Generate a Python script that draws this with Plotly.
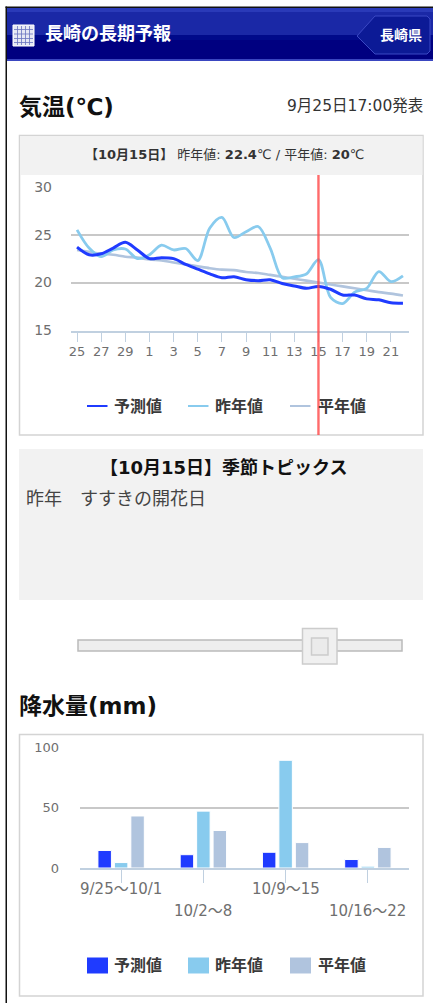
import plotly.graph_objects as go

W, H = 433, 1003
FONT = "DejaVu Sans, Noto Sans CJK JP"

# ---- data ----
days = ["25","26","27","28","29","30","1","2","3","4","5","6","7","8","9","10",
        "11","12","13","14","15","16","17","18","19","20","21","22"]
forecast = [23.7,22.9,23.0,23.6,24.2,23.4,22.5,22.6,22.5,21.9,21.4,20.9,20.5,20.6,
            20.3,20.2,20.3,19.9,19.65,19.4,19.6,19.3,18.7,18.7,18.3,18.2,17.9,17.85]
last_year = [25.5,23.6,22.7,23.4,23.5,22.5,22.9,23.9,23.4,23.55,22.3,25.7,26.8,24.7,
             25.3,25.85,23.6,20.5,20.6,20.9,22.4,18.45,17.8,19.0,19.4,21.15,20.1,20.7]
normal = [23.4,23.2,23.0,22.9,22.7,22.6,22.4,22.3,22.1,21.9,21.7,21.5,21.35,21.3,
          21.1,21.0,20.8,20.6,20.4,20.2,20.0,19.8,19.6,19.4,19.2,19.0,18.85,18.65]
selected_day = "15"

weeks = ["9/25～10/1","10/2～8","10/9～15","10/16～22"]
rain_forecast = [14.5,11,13,7]
rain_last_year = [4.5,47,89,1.5]
rain_normal = [43,31,21,17]

series_names = ["予測値","昨年値","平年値"]
C_F, C_L, C_N = "#1f3bff", "#88cbee", "#b0c4de"
GRID, AXIS, TICKTXT = "#c8c8c8", "#c0d0e0", "#6f6f6f"

def fx(p): return p / W
def fy(p): return 1 - p / H

shapes, annos = [], []

def rect(x0, y0, x1, y1, fill=None, line=None, lw=1, layer="below"):
    shapes.append(dict(type="rect", xref="paper", yref="paper", x0=fx(x0), x1=fx(x1),
                       y0=fy(y1), y1=fy(y0), fillcolor=fill or "rgba(0,0,0,0)",
                       line=dict(color=line or "rgba(0,0,0,0)", width=lw if line else 0),
                       layer=layer))

def text(x, y, s, size, color="#222222", anchor="left", bold=False):
    annos.append(dict(xref="paper", yref="paper", x=fx(x), y=fy(y), text=f"<b>{s}</b>" if bold else s,
                      showarrow=False, xanchor=anchor, yanchor="middle",
                      font=dict(family=FONT, size=size, color=color),
                      borderpad=0, borderwidth=0))

# page frame
rect(5.5, 6.5, 433, 8, fill="#111111")
rect(5.5, 6.5, 7, 1003, fill="#111111")

# header band
rect(7, 8, 433, 12, fill="#2a3ab8")
rect(7, 12, 433, 35, fill="#1a28a6")
rect(7, 35, 433, 40, fill="#000a8a")
rect(7, 40, 433, 59, fill="#000080")
rect(7, 59, 433, 61, fill="#3a46c0")
# calendar icon
rect(13, 25, 34, 46, fill="#e6e8f4", line="#ffffff", lw=1)
for gx in (17.5, 21.5, 25.5, 29.5):
    rect(gx - 0.4, 26, gx + 0.4, 45, fill="#6a74c0")
for gy in (29.5, 34, 38.5, 42.5):
    rect(14, gy - 0.4, 33, gy + 0.4, fill="#6a74c0")
# region button
shapes.append(dict(type="path", xref="paper", yref="paper",
    path=(f"M {fx(357)} {fy(36)} L {fx(375)} {fy(16)} L {fx(427)} {fy(16)} L {fx(430)} {fy(19)} "
          f"L {fx(430)} {fy(51)} L {fx(427)} {fy(54)} L {fx(375)} {fy(54)} Z"),
    fillcolor="#0c1a96", line=dict(color="#3b48c4", width=1), layer="below"))
text(45, 33, "長崎の長期予報", 18, "#ffffff", bold=True)
text(401, 35.5, "長崎県", 14, "#ffffff", anchor="center", bold=True)

# temperature section
text(19, 107, "気温(℃)", 23, "#111111", bold=True)
text(423, 106, "9月25日17:00発表", 15.5, "#333333", anchor="right")
rect(19.5, 135.5, 423, 435, fill="#ffffff", line="#d4d4d4", lw=1.5)
rect(20, 136, 422.5, 175, fill="#f2f2f2")
text(224, 154, "<b>【10月15日】</b> 昨年値: <b>22.4</b>℃ / 平年値: <b>20</b>℃", 13, "#333333", anchor="center")

# topics box
rect(19, 449, 423, 600, fill="#f2f2f2")
text(224.5, 468, "【10月15日】季節トピックス", 18, "#111111", anchor="center", bold=True)
text(26, 499, "昨年　すすきの開花日", 18, "#444444")

# slider
rect(78, 640, 402, 651, fill="#eeeeee", line="#bbbbbb", lw=1.5)
rect(302.5, 628.5, 337, 664, fill="#f0f0f0", line="#cccccc", lw=1.5)
rect(311.5, 638, 328, 655, fill="#ebebeb", line="#cccccc", lw=1.5)

# rain section
text(19, 706, "降水量(mm)", 23, "#111111", bold=True)
rect(19.5, 734.5, 423, 996, fill="#ffffff", line="#d4d4d4", lw=1.5)

# hand-placed legends
def legend(y, marker):
    for (x0, tx, name, col) in zip((87, 188, 290), (114, 215, 318), series_names, (C_F, C_L, C_N)):
        if marker == "line":
            rect(x0, y - 1, x0 + 20.5, y + 1, fill=col)
        else:
            rect(x0, y - 8, x0 + 21, y + 8, fill=col)
        text(tx, y, name, 16, "#3a3a3a", bold=True)
legend(406, "line")
legend(965.5, "box")

fig = go.Figure()
for name, vals, col, lw in [(series_names[2], normal, C_N, 2.6), (series_names[1], last_year, C_L, 2.8),
                            (series_names[0], forecast, C_F, 3)]:
    fig.add_trace(go.Scatter(x=days, y=vals, name=name, mode="lines", xaxis="x", yaxis="y",
                             line=dict(color=col, width=lw, shape="spline", smoothing=0.9)))
for name, vals, col in zip(series_names, (rain_forecast, rain_last_year, rain_normal), (C_F, C_L, C_N)):
    fig.add_trace(go.Bar(x=weeks, y=vals, name=name, xaxis="x2", yaxis="y2", marker_color=col,
                         marker_line=dict(color="#ffffff", width=1)))

# selected-day marker (category axis: position is the index of the day)
sel = days.index(selected_day)
shapes.append(dict(type="line", xref="x", yref="paper", x0=sel, x1=sel,
                   y0=fy(435), y1=fy(175), line=dict(color="rgba(255,70,70,0.8)", width=2.4), layer="above"))

# staggered week labels
for i, w in enumerate(weeks):
    annos.append(dict(xref="x2", yref="paper", x=w, y=fy(889 if i % 2 == 0 else 911), text=w, showarrow=False,
                      yanchor="middle", font=dict(family=FONT, size=15, color=TICKTXT)))

fig.update_layout(
    width=W, height=H, margin=dict(l=0, r=0, t=0, b=0), autosize=False,
    paper_bgcolor="#ffffff", plot_bgcolor="rgba(0,0,0,0)", showlegend=False,
    font=dict(family=FONT), bargap=0.4, bargroupgap=0.18, barmode="group",
    shapes=shapes, annotations=annos,
    xaxis=dict(domain=[fx(71), fx(409)], type="category", range=[-0.5, 27.5], categoryorder="array",
               categoryarray=days, tickmode="array", tickvals=days[::2], ticks="outside", ticklen=10,
               tickcolor=AXIS, showline=True, linecolor=AXIS, linewidth=1.5, showgrid=False, anchor="y",
               automargin=False, ticklabelstandoff=-2, tickfont=dict(size=13, color=TICKTXT, family=FONT)),
    yaxis=dict(domain=[fy(330.5), fy(186.7)], range=[15, 30], tickvals=[15, 20, 25, 30], gridcolor=GRID,
               gridwidth=1.5, zeroline=False, showline=False, ticks="", ticklabelstandoff=18, anchor="x",
               automargin=False, tickfont=dict(size=14, color=TICKTXT, family=FONT)),
    xaxis2=dict(domain=[fx(80), fx(409)], type="category", range=[-0.5, 3.5], ticks="outside", ticklen=13,
                tickcolor=AXIS, showline=True, linecolor=AXIS, linewidth=1.5, showgrid=False,
                showticklabels=False, automargin=False, anchor="y2"),
    yaxis2=dict(domain=[fy(868), fy(747)], range=[0, 100], tickvals=[0, 50, 100], gridcolor=GRID,
                gridwidth=1.5, zeroline=False, showline=False, ticks="", ticklabelstandoff=20, anchor="x2",
                automargin=False, tickfont=dict(size=13, color=TICKTXT, family=FONT)),
)

fig.write_html("out.html", config=dict(displayModeBar=False),
               post_script="document.body.style.margin='0';document.body.style.overflow='hidden';")
